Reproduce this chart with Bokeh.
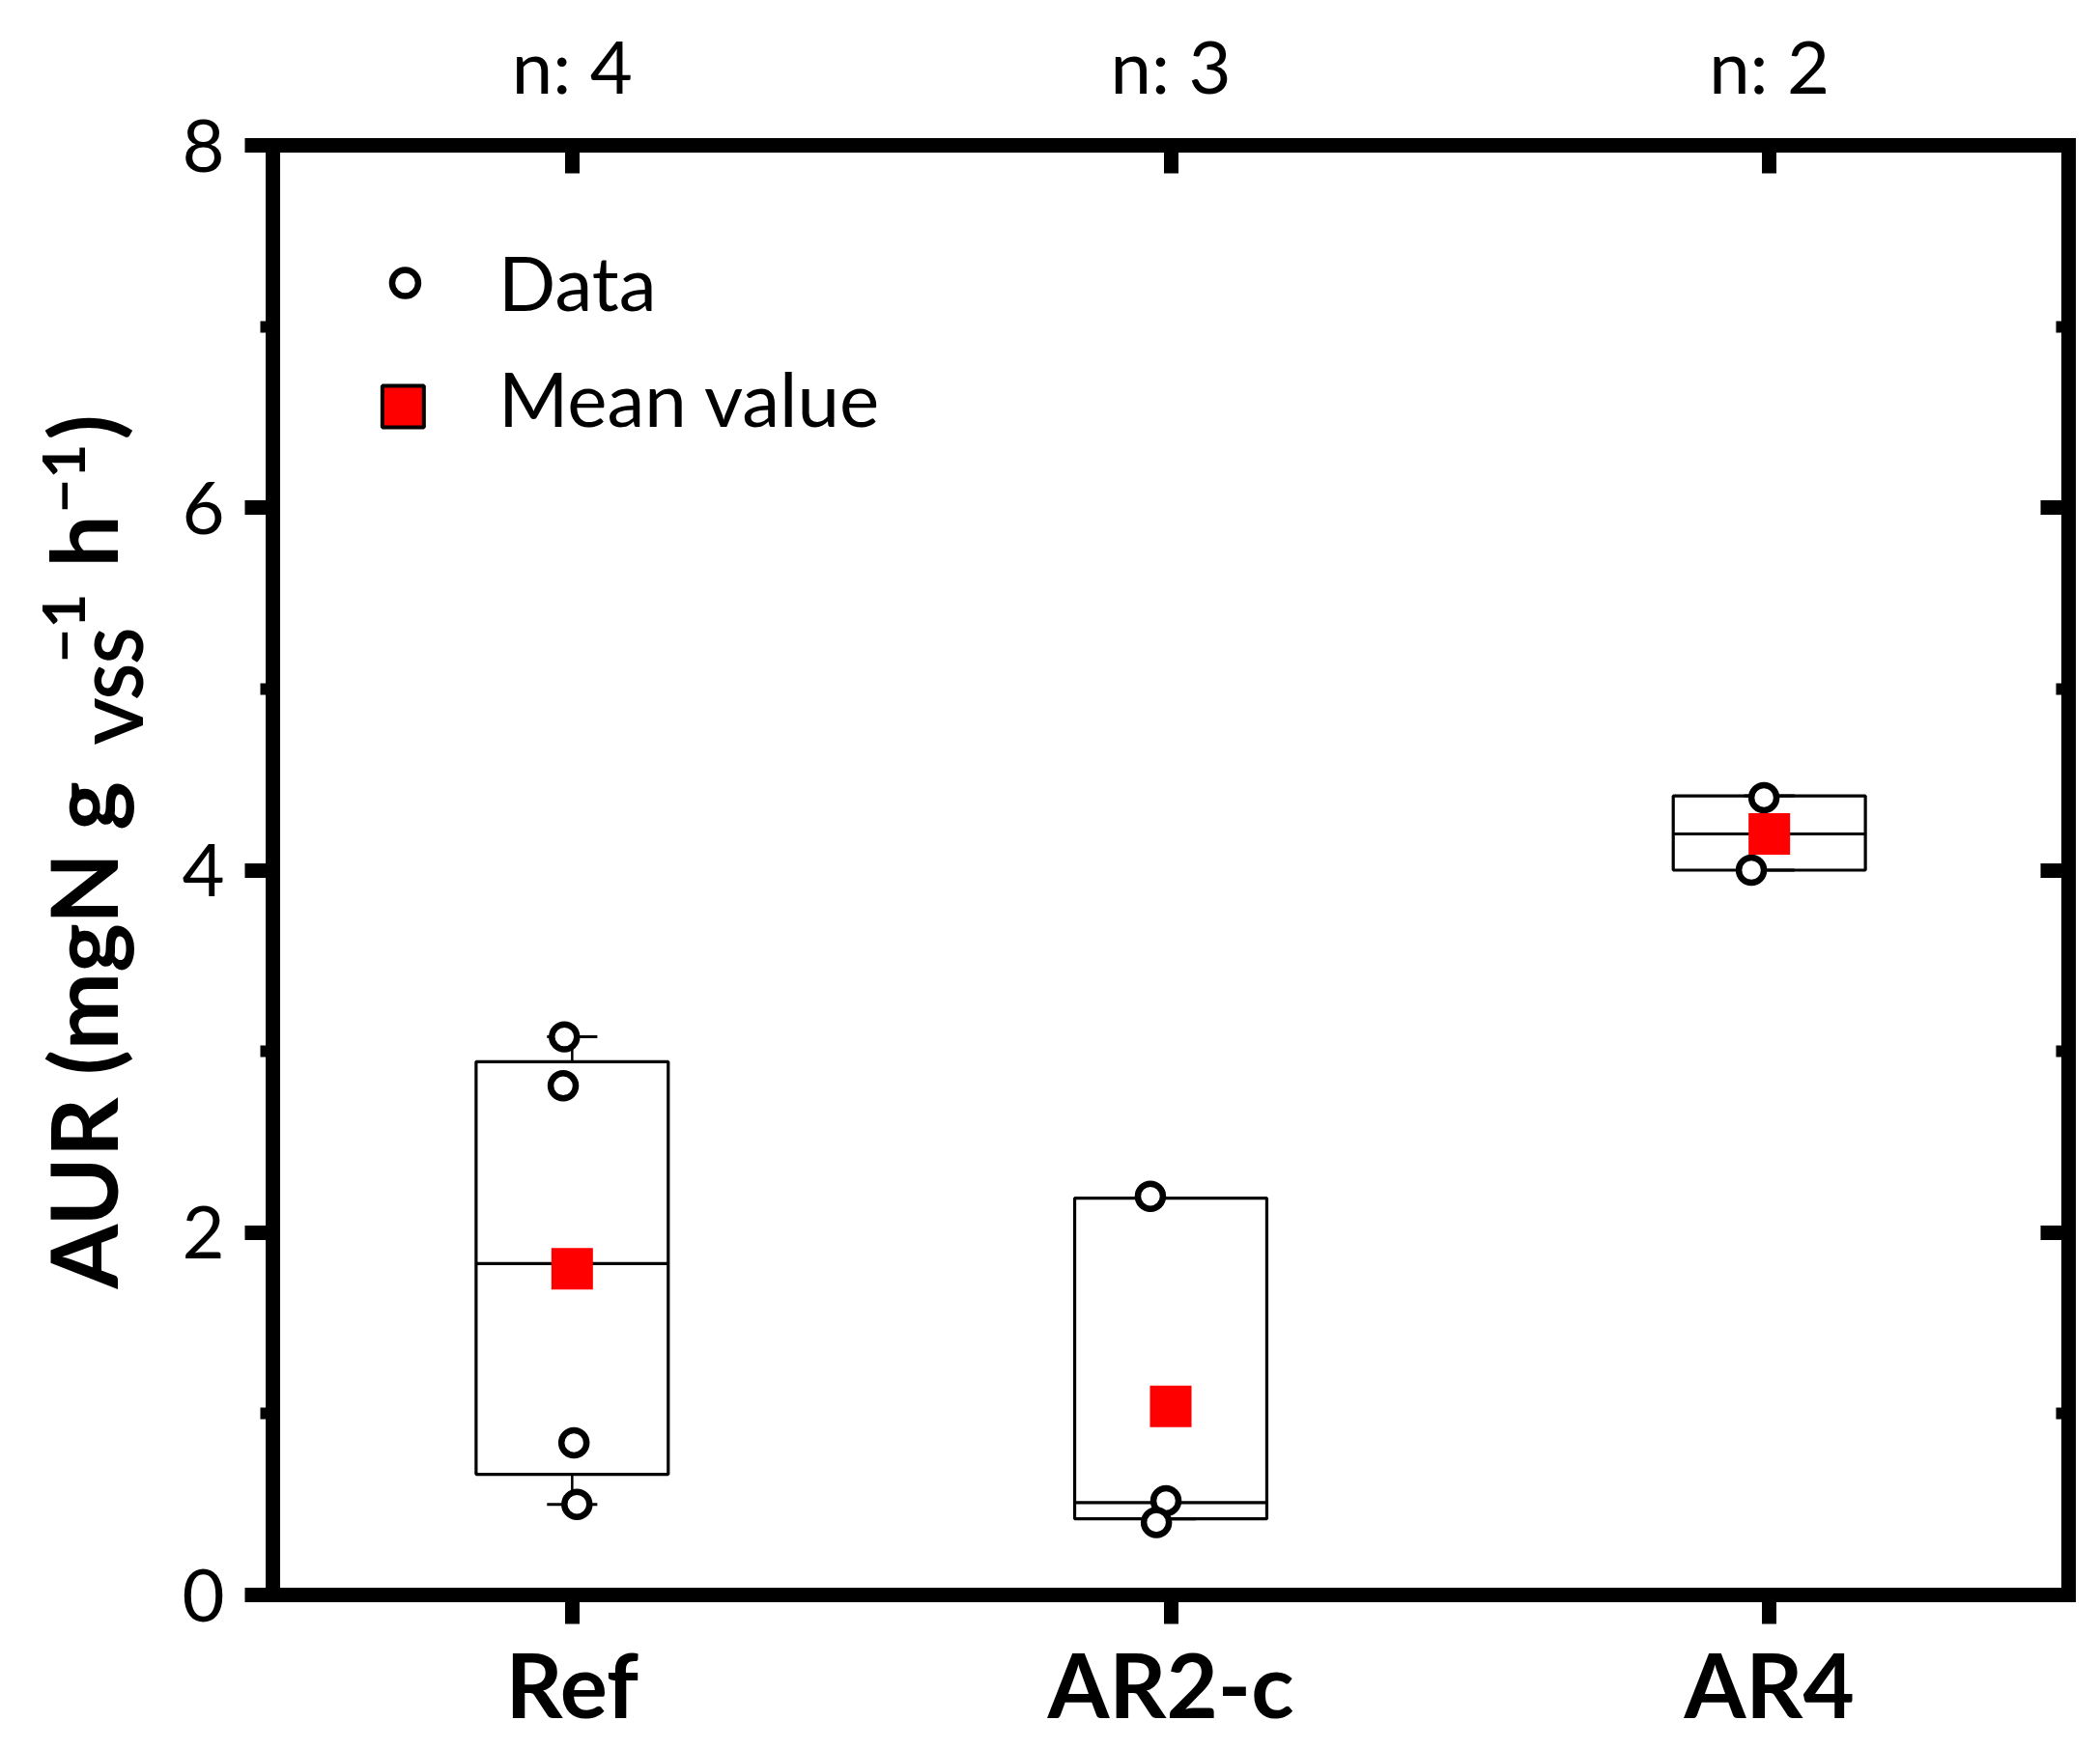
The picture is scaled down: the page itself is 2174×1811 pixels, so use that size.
import math
from bokeh.plotting import figure
from bokeh.layouts import row
from bokeh.models import Range1d, LinearAxis, FixedTicker
from bokeh.core.properties import value
from bokeh.embed import file_html
from bokeh.resources import INLINE

# ---------------- data ----------------
categories = ["Ref", "AR2-c", "AR4"]
cat_pos = [1, 2, 3]
n_counts = [4, 3, 2]

data_cat = [1, 1, 1, 1, 2, 2, 2, 3, 3]
data_jitter = [-0.013, -0.015, 0.003, 0.008, -0.034, -0.008, -0.024, -0.009, -0.030]
data_values = [3.08, 2.81, 0.84, 0.50, 2.20, 0.52, 0.40, 4.40, 4.00]

box_q1 = [0.666, 0.42, 4.00]
box_q3 = [2.943, 2.19, 4.41]
box_median = [1.829, 0.51, 4.20]
whisker_low = [0.50, 0.42, 4.00]
whisker_high = [3.08, 2.19, 4.41]
mean_values = [1.80, 1.04, 4.20]

y_major = [0, 2, 4, 6, 8]
y_minor = [1, 3, 5, 7]

legend_labels = ["Data", "Mean value"]

# y-axis title pieces: (text, font size)
ytitle_parts = [("AUR (mgN g", "96px"), ("VSS", "68px"), ("\u22121", "62px"),
                ("h", "96px"), ("\u22121", "62px"), (")", "96px")]

# ---------------- style / layout constants ----------------
FONT = "Lato"
BOX_W = 0.321
CAP_W = 0.084
AXIS_W = 15
TOP, FRAME_H, BOTTOM = 150, 1501, 155
LABEL_W = 176
FRAME_LEFT = 282
TOTAL_H = TOP + FRAME_H + BOTTOM

p = figure(
    frame_width=1859, frame_height=FRAME_H,
    min_border_left=FRAME_LEFT - LABEL_W, min_border_right=28,
    min_border_top=TOP, min_border_bottom=BOTTOM,
    x_range=Range1d(0.5, 3.5), y_range=Range1d(0, 8),
    output_backend="svg", toolbar_location=None,
    background_fill_color="white", border_fill_color="white",
)
p.outline_line_color = None
p.xgrid.visible = False
p.ygrid.visible = False

def style_axis(ax):
    ax.axis_line_width = AXIS_W
    ax.axis_line_color = "black"
    ax.axis_line_cap = "square"
    ax.major_tick_line_width = 15
    ax.minor_tick_line_width = 12
    ax.major_tick_line_color = "black"
    ax.minor_tick_line_color = "black"
    ax.major_label_text_font = FONT
    ax.major_label_text_color = "black"

# bottom axis
xb = p.xaxis[0]
style_axis(xb)
xb.ticker = FixedTicker(ticks=cat_pos, minor_ticks=[])
xb.major_label_overrides = {c: name for c, name in zip(cat_pos, categories)}
xb.major_label_text_font_size = "92px"
xb.major_label_text_font_style = "bold"
xb.major_tick_out = 30
xb.major_tick_in = 0
xb.minor_tick_out = 0
xb.minor_tick_in = 0
xb.major_label_standoff = 6

# left axis
yl = p.yaxis[0]
style_axis(yl)
yl.ticker = FixedTicker(ticks=y_major, minor_ticks=y_minor)
yl.major_label_text_font_size = "76px"
yl.major_tick_out = 29
yl.major_tick_in = 0
yl.minor_tick_out = 13
yl.minor_tick_in = 0
yl.major_label_standoff = 21

# top axis (n labels)
xt = LinearAxis(ticker=FixedTicker(ticks=cat_pos, minor_ticks=[]))
style_axis(xt)
xt.major_label_overrides = {c: f"n: {n}" for c, n in zip(cat_pos, n_counts)}
xt.major_label_text_font_size = "76px"
xt.major_tick_in = 29
xt.major_tick_out = 0
xt.minor_tick_in = 0
xt.minor_tick_out = 0
xt.major_label_standoff = 38
p.add_layout(xt, "above")

# right axis (mirror ticks, no labels)
yr = LinearAxis(ticker=FixedTicker(ticks=y_major, minor_ticks=y_minor))
style_axis(yr)
yr.major_tick_in = 29
yr.major_tick_out = 0
yr.minor_tick_in = 13
yr.minor_tick_out = 0
yr.major_label_text_font_size = "1px"
yr.major_label_text_alpha = 0
yr.major_label_standoff = 0
p.add_layout(yr, "right")

# ---------------- boxes ----------------
p.vbar(x=cat_pos, width=BOX_W, bottom=box_q1, top=box_q3,
       fill_color="white", line_color="black", line_width=3.2)
p.segment(x0=[c - BOX_W / 2 for c in cat_pos], y0=box_median,
          x1=[c + BOX_W / 2 for c in cat_pos], y1=box_median,
          line_color="black", line_width=3.2)
# whiskers
p.segment(x0=cat_pos, y0=box_q3, x1=cat_pos, y1=whisker_high, line_color="black", line_width=2.5)
p.segment(x0=cat_pos, y0=box_q1, x1=cat_pos, y1=whisker_low, line_color="black", line_width=2.5)
p.segment(x0=[c - CAP_W / 2 for c in cat_pos], y0=whisker_high,
          x1=[c + CAP_W / 2 for c in cat_pos], y1=whisker_high, line_color="black", line_width=3)
p.segment(x0=[c - CAP_W / 2 for c in cat_pos], y0=whisker_low,
          x1=[c + CAP_W / 2 for c in cat_pos], y1=whisker_low, line_color="black", line_width=3)

# data points
p.scatter(x=[c + j for c, j in zip(data_cat, data_jitter)], y=data_values,
          marker="circle", size=26, fill_color="white", line_color="black", line_width=6.5)
# mean values
p.scatter(x=cat_pos, y=mean_values, marker="square", size=43,
          fill_color="red", line_color=None)

# ---------------- legend (drawn inside the frame) ----------------
p.scatter(x=[0.721], y=[7.240], marker="circle", size=27, fill_color="white",
          line_color="black", line_width=6.5)
p.scatter(x=[0.7176], y=[6.558], marker="square", size=43, fill_color="red",
          line_color="black", line_width=4)
p.text(x=[0.877, 0.877], y=[7.246, 6.606], text=legend_labels,
       text_font=value(FONT), text_font_size=value("78px"), text_color=value("black"),
       text_baseline=value("middle"), text_align=value("left"))

# ---------------- y axis title, in a narrow companion figure ----------------
q = figure(frame_width=LABEL_W, frame_height=FRAME_H,
           min_border_left=0, min_border_right=0, min_border_top=TOP, min_border_bottom=BOTTOM,
           x_range=Range1d(0, LABEL_W), y_range=Range1d(BOTTOM, BOTTOM + FRAME_H),
           x_axis_location=None, y_axis_location=None,
           output_backend="svg", toolbar_location=None,
           background_fill_color="white", border_fill_color="white")
q.outline_line_color = None
q.xgrid.visible = False
q.ygrid.visible = False

# centre line (x) and start (page y) of each title piece
part_x = [84, 121, 65, 84, 65, 84]
part_page_y = [1334, 770, 686, 587, 531, 455]
for (txt, size), px, py in zip(ytitle_parts, part_x, part_page_y):
    q.text(x=[px], y=[TOTAL_H - py], text=[txt], angle=math.pi / 2,
           text_font=value(FONT), text_font_size=value(size), text_font_style=value("bold"),
           text_color=value("black"), text_baseline=value("middle"), text_align=value("left"))

layout = row(q, p, spacing=0)
open("out.html", "w").write(file_html(layout, INLINE))
